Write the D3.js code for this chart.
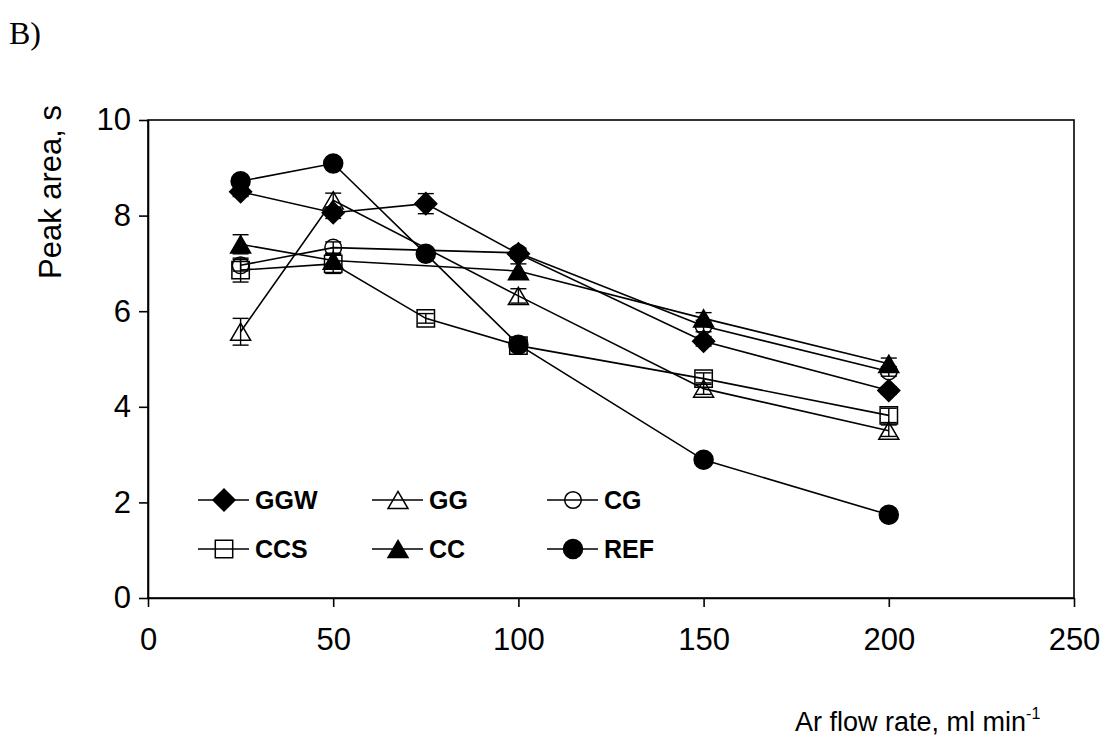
<!DOCTYPE html>
<html>
<head>
<meta charset="utf-8">
<script src="https://cdn.jsdelivr.net/npm/d3@7"></script>
<style>
  html, body { margin: 0; padding: 0; background: #fff; }
  svg { display: block; }
</style>
</head>
<body>
<svg id="chart" width="1105" height="742"></svg>
<script>
// Argon flow rate (ml/min) at which peak area was measured
const flowRates = [25, 50, 75, 100, 150, 200];

// Peak area (s) per material; null = not measured at that flow rate
const ggw = [8.50, 8.06, 8.25, 7.20, 5.37, 4.34];
const gg  = [5.57, 8.32, null, 6.32, 4.38, 3.50];
const cg  = [6.96, 7.33, null, 7.22, 5.69, 4.74];
const ccs = [6.86, 6.99, 5.85, 5.28, 4.59, 3.82];
const cc  = [7.40, 7.06, null, 6.84, 5.85, 4.90];
const ref = [8.72, 9.09, 7.20, 5.30, 2.89, 1.74];

// Standard deviations
const ggwErr = [0.10, 0.12, 0.21, 0.10, 0.10, 0.08];
const ggErr  = [0.28, 0.15, null, 0.15, 0.12, 0.12];
const cgErr  = [0.12, 0.12, null, 0.10, 0.12, 0.10];
const ccsErr = [0.25, 0.20, 0.10, 0.08, 0.12, 0.15];
const ccErr  = [0.20, 0.15, null, 0.15, 0.12, 0.12];
const refErr = [0.08, 0.05, 0.05, 0.05, 0.05, 0.05];

const xTicks = [0, 50, 100, 150, 200, 250];
const yTicks = [0, 2, 4, 6, 8, 10];

const seriesNames = ["GGW", "GG", "CG", "CCS", "CC", "REF"];

// Marker shapes drawn around (0,0); the size argument is a half-width in px
const shapes = {
  diamond: { draw(ctx, s) { ctx.moveTo(0, -s); ctx.lineTo(s, 0); ctx.lineTo(0, s); ctx.lineTo(-s, 0); ctx.closePath(); } },
  triangle: { draw(ctx, s) { const h = s * 0.86; ctx.moveTo(0, -h); ctx.lineTo(s, h); ctx.lineTo(-s, h); ctx.closePath(); } },
  square: { draw(ctx, s) { ctx.rect(-s, -s, 2 * s, 2 * s); } },
  circle: { draw(ctx, s) { ctx.moveTo(s, 0); ctx.arc(0, 0, s, 0, 2 * Math.PI); } }
};

const series = [
  { name: seriesNames[0], values: ggw, err: ggwErr, shape: "diamond",  size: 11,  filled: true },
  { name: seriesNames[1], values: gg,  err: ggErr,  shape: "triangle", size: 10,  filled: false },
  { name: seriesNames[2], values: cg,  err: cgErr,  shape: "circle",   size: 8.3, filled: false },
  { name: seriesNames[3], values: ccs, err: ccsErr, shape: "square",   size: 8.7, filled: false },
  { name: seriesNames[4], values: cc,  err: ccErr,  shape: "triangle", size: 10,  filled: true },
  { name: seriesNames[5], values: ref, err: refErr, shape: "circle",   size: 9.5, filled: true }
];

const svg = d3.select("#chart");
const plot = { left: 148, right: 1074, top: 120, bottom: 598 };

const x = d3.scaleLinear().domain([0, 250]).range([plot.left, plot.right]);
const y = d3.scaleLinear().domain([0, 10]).range([plot.bottom, plot.top]);

const sans = "'Liberation Sans', Arial, sans-serif";

// Plot frame
svg.append("rect")
  .attr("x", plot.left).attr("y", plot.top)
  .attr("width", plot.right - plot.left).attr("height", plot.bottom - plot.top)
  .attr("fill", "none").attr("stroke", "#000").attr("stroke-width", 1.6);

// Axes
const xAxis = svg.append("g")
  .attr("transform", `translate(0,${plot.bottom})`)
  .call(d3.axisBottom(x).tickValues(xTicks).tickSize(9).tickPadding(21).tickSizeOuter(0));
const yAxis = svg.append("g")
  .attr("transform", `translate(${plot.left},0)`)
  .call(d3.axisLeft(y).tickValues(yTicks).tickSize(9).tickPadding(8).tickSizeOuter(0));

[xAxis, yAxis].forEach(g => {
  g.select(".domain").attr("stroke", "#000").attr("stroke-width", 1.6);
  g.selectAll(".tick line").attr("stroke", "#000").attr("stroke-width", 1.6);
  g.selectAll(".tick text").attr("fill", "#000")
    .style("font-family", sans).style("font-size", "31px");
});

// Axis titles
svg.append("text")
  .attr("transform", "translate(61,192) rotate(-90)")
  .attr("text-anchor", "middle")
  .style("font-family", sans).style("font-size", "31px")
  .text("Peak area, s");

const xTitle = svg.append("text")
  .attr("x", 795).attr("y", 731)
  .style("font-family", sans).style("font-size", "27px");
xTitle.append("tspan").text("Ar flow rate, ml min");
xTitle.append("tspan").attr("dy", -12).style("font-size", "16px").text("-1");

// Panel label
svg.append("text")
  .attr("x", 9).attr("y", 44)
  .style("font-family", "'Liberation Serif', 'Times New Roman', serif")
  .style("font-size", "32px")
  .text("B)");

const line = d3.line()
  .defined(d => d.v !== null)
  .x(d => x(d.x)).y(d => y(d.v));

const symbolPath = (s) => d3.symbol().type(shapes[s.shape]).size(s.size)();

// Lines
series.forEach(s => {
  const pts = flowRates.map((fx, i) => ({ x: fx, v: s.values[i] })).filter(d => d.v !== null);
  svg.append("path")
    .datum(pts)
    .attr("d", line)
    .attr("fill", "none").attr("stroke", "#000").attr("stroke-width", 1.6);
});

// Error bars
series.forEach(s => {
  const pts = flowRates.map((fx, i) => ({ x: fx, v: s.values[i], e: s.err[i] })).filter(d => d.v !== null && d.e);
  const g = svg.append("g").attr("stroke", "#000").attr("stroke-width", 1.4);
  pts.forEach(d => {
    const cx = x(d.x), y0 = y(d.v - d.e), y1 = y(d.v + d.e);
    g.append("line").attr("x1", cx).attr("x2", cx).attr("y1", y0).attr("y2", y1);
    g.append("line").attr("x1", cx - 8).attr("x2", cx + 8).attr("y1", y0).attr("y2", y0);
    g.append("line").attr("x1", cx - 8).attr("x2", cx + 8).attr("y1", y1).attr("y2", y1);
  });
});

// Markers
series.forEach(s => {
  const pts = flowRates.map((fx, i) => ({ x: fx, v: s.values[i] })).filter(d => d.v !== null);
  svg.append("g").selectAll("path")
    .data(pts).join("path")
    .attr("transform", d => `translate(${x(d.x)},${y(d.v)})`)
    .attr("d", symbolPath(s))
    .attr("fill", s.filled ? "#000" : "none")
    .attr("stroke", "#000").attr("stroke-width", 1.5);
});

// Legend: two rows of three entries inside the plot
const legendCols = [224, 398, 573];
const legendRows = [500, 549];
const legend = svg.append("g");
series.forEach((s, i) => {
  const lx = legendCols[i % 3], ly = legendRows[Math.floor(i / 3)];
  const g = legend.append("g").attr("transform", `translate(${lx},${ly})`);
  g.append("line").attr("x1", -26).attr("x2", 25).attr("y1", 0).attr("y2", 0)
    .attr("stroke", "#000").attr("stroke-width", 1.6);
  g.append("path").attr("d", symbolPath(s))
    .attr("fill", s.filled ? "#000" : "none")
    .attr("stroke", "#000").attr("stroke-width", 1.5);
  g.append("text").attr("x", 31).attr("y", 0).attr("dy", "0.36em")
    .style("font-family", sans).style("font-size", "25px").style("font-weight", "bold")
    .text(s.name);
});
</script>
</body>
</html>
